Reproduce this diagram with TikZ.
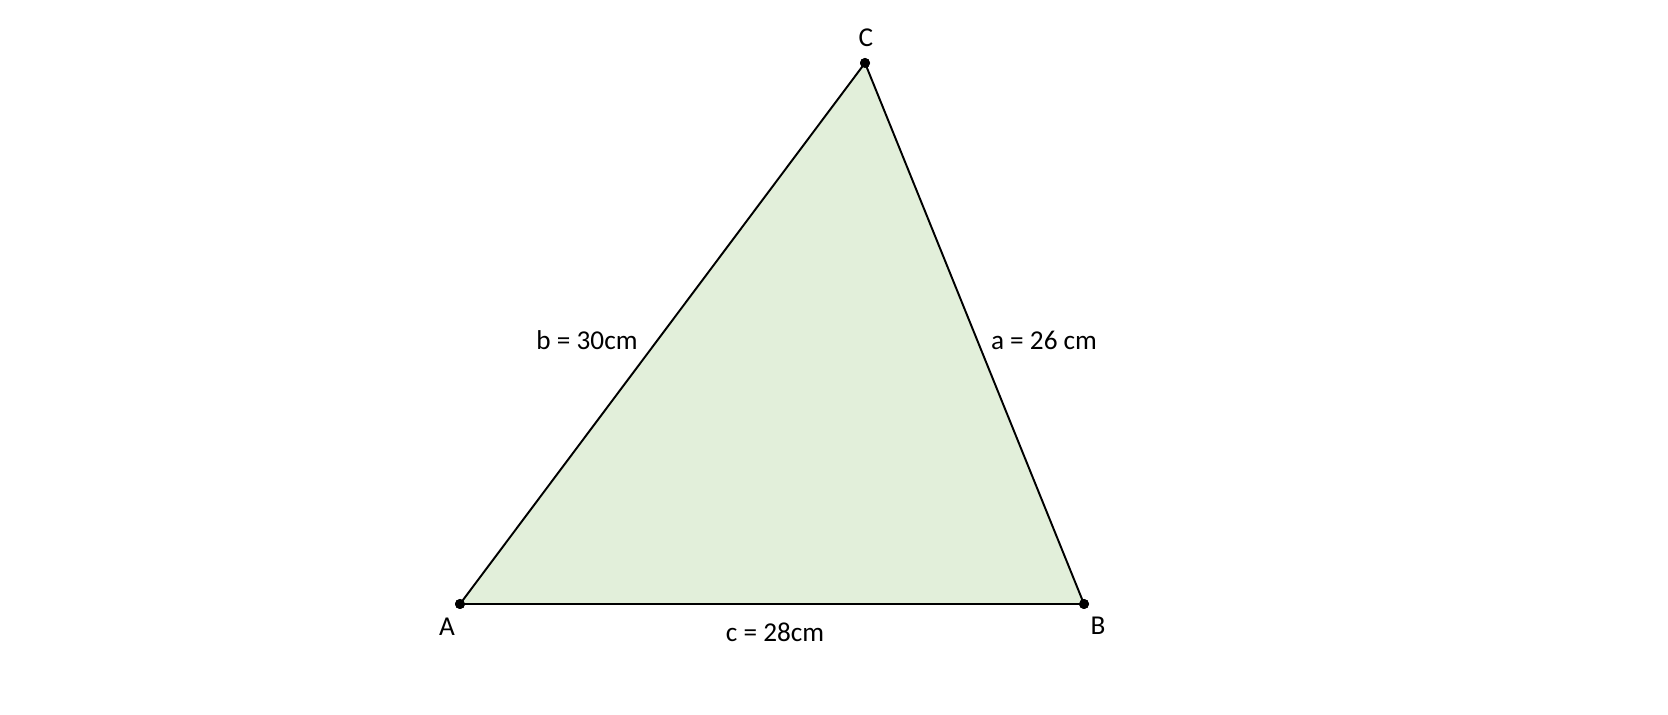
\documentclass[tikz,border=0pt]{standalone}
\usepackage{fontspec}
\setmainfont{Carlito}
\usetikzlibrary{positioning}

\begin{document}
\begin{tikzpicture}[x=0.02cm,
                    y=-0.02cm,
                    line width=1.1pt,
                    font=\fontsize{15.5}{18}\selectfont]
                \tikzstyle{vertex}=[circle,
                                fill=black,
                                inner sep=0pt,
                                minimum size=2mm]
                \tikzstyle{lbl}=[inner sep=0pt]
                \definecolor{trifill}{HTML}{E2EFDA}

                \useasboundingbox (0,0) rectangle (1668,715);

                \node[vertex] (A) at (460,604) {};
                \node[vertex] (B) at (1084,604) {};
                \node[vertex] (C) at (865,63) {};

                \fill[trifill] (A.center) -- (B.center) -- (C.center) -- cycle;
                \draw[line join=round] (A.center) -- (B.center) -- (C.center) -- cycle;
                \node[vertex] at (A) {};
                \node[vertex] at (B) {};
                \node[vertex] at (C) {};

                \node[lbl] (labelA) at (447,627) {A};
                \node[lbl] (labelB) at (1098,626) {B};
                \node[lbl] (labelC) at (866,38) {C};

                \node[lbl] (sideb) at (587,340) {b = 30cm};
                \node[lbl] (sidea) at (1044,340) {a = 26 cm};
                \node[lbl] (sidec) at (775,632) {c = 28cm};
            \end{tikzpicture}
\end{document}
